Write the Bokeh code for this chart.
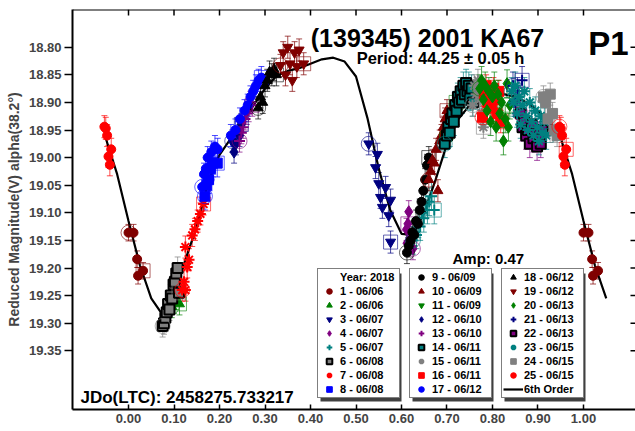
from bokeh.plotting import figure
from bokeh.models import (ColumnDataSource, Range1d, FixedTicker, Legend, LegendItem,
                          Label, Whisker, TeeHead, BoxAnnotation, NumeralTickFormatter, Span)
from bokeh.embed import file_html
from bokeh.resources import INLINE

# ---------------- texts ----------------
title_text = "(139345) 2001 KA67"
period_text = "Period: 44.25 \u00b1 0.05 h"
amp_text = "Amp: 0.47"
jd_text = "JDo(LTC): 2458275.733217"
plot_tag = "P1"
y_label = "Reduced Magnitude(V) alpha(38.2\u00b0)"
year_header = "Year: 2018"
fit_label = "6th Order"

x_ticks = [0.0, 0.1, 0.2, 0.3, 0.4, 0.5, 0.6, 0.7, 0.8, 0.9, 1.0]
y_ticks = [18.80, 18.85, 18.90, 18.95, 19.00, 19.05, 19.10, 19.15, 19.20, 19.25, 19.30, 19.35]

# ---------------- sessions ----------------
session_labels = ["1 - 06/06", "2 - 06/06", "3 - 06/07", "4 - 06/07", "5 - 06/07", "6 - 06/08",
                  "7 - 06/08", "8 - 06/08", "9 - 06/09", "10 - 06/09", "11 - 06/09", "12 - 06/10",
                  "13 - 06/10", "14 - 06/11", "15 - 06/11", "16 - 06/11", "17 - 06/12", "18 - 06/12",
                  "19 - 06/12", "20 - 06/13", "21 - 06/13", "22 - 06/13", "23 - 06/15", "24 - 06/15",
                  "25 - 06/15"]
session_markers = ["circle", "triangle", "inverted_triangle", "diamond", "cross", "square",
                   "asterisk", "square", "circle", "triangle", "inverted_triangle", "diamond",
                   "cross", "square", "asterisk", "square", "circle", "triangle",
                   "inverted_triangle", "diamond", "cross", "square", "asterisk", "square", "circle"]
session_colors = ["#800000", "#008000", "#000080", "#800080", "#008080", "#808080",
                  "#ff0000", "#0000ff", "#000000", "#800000", "#008000", "#000080",
                  "#800080", "#008080", "#808080", "#ff0000", "#0000ff", "#000000",
                  "#800000", "#008000", "#000080", "#800080", "#008080", "#808080", "#ff0000"]
session_bordered = [6, 14, 22]
session_errors = [0.015, 0.020, 0.020, 0.020, 0.025, 0.020, 0.020, 0.025, 0.020, 0.020,
                  0.020, 0.020, 0.020, 0.025, 0.020, 0.020, 0.020, 0.020, 0.020, 0.025,
                  0.025, 0.025, 0.025, 0.020, 0.020]

ph01 = [0.000, 0.011, 0.019, 0.021, 0.032]
mag01 = [19.136, 19.136, 19.184, 19.214, 19.205]
ph02 = [0.095, 0.100, 0.104, 0.108, 0.112]
mag02 = [19.270, 19.262, 19.255, 19.245, 19.265]
ph03 = [0.528, 0.547, 0.543, 0.550, 0.565, 0.554, 0.576, 0.558, 0.572, 0.576]
mag03 = [18.975, 18.994, 19.018, 19.047, 19.054, 19.072, 19.077, 19.090, 19.105, 19.153]
ph04 = [0.625, 0.612, 0.616, 0.611, 0.618, 0.614]
mag04 = [19.165, 19.155, 19.098, 19.130, 19.145, 19.120]
ph05 = [0.625, 0.629, 0.633, 0.637, 0.641, 0.645, 0.649, 0.653, 0.657, 0.661, 0.666, 0.672]
mag05 = [19.150, 19.135, 19.140, 19.120, 19.125, 19.100, 19.110, 19.085, 19.095, 19.080, 19.070, 19.095]
ph06 = [0.075, 0.078, 0.081, 0.084, 0.087, 0.090, 0.093, 0.096, 0.099, 0.102, 0.105, 0.108, 0.111]
mag06 = [19.305, 19.300, 19.290, 19.280, 19.265, 19.275, 19.250, 19.255, 19.230, 19.225, 19.210, 19.200, 19.245]
ph07 = [0.118, 0.122, 0.125, 0.129, 0.125, 0.133, 0.140, 0.146, 0.152, 0.158, 0.165]
mag07 = [19.240, 19.225, 19.240, 19.198, 19.162, 19.185, 19.141, 19.130, 19.115, 19.102, 19.084]
ph08 = [0.168, 0.172, 0.176, 0.180, 0.185, 0.195]
mag08 = [19.070, 19.050, 19.040, 19.020, 19.010, 19.010]
ph09 = [0.612, 0.616, 0.620, 0.624, 0.628, 0.632, 0.636, 0.640, 0.644, 0.648, 0.652, 0.656, 0.660]
mag09 = [19.172, 19.160, 19.150, 19.135, 19.140, 19.115, 19.120, 19.095, 19.080, 19.060, 19.040, 19.014, 19.000]
ph10 = [0.660, 0.664, 0.668, 0.672, 0.676, 0.680, 0.684, 0.688, 0.692, 0.696, 0.700]
mag10 = [19.040, 19.025, 19.005, 19.010, 18.985, 19.060, 18.970, 18.960, 18.945, 18.930, 18.915]
ph11 = [0.700, 0.705, 0.710, 0.715, 0.720]
mag11 = [18.960, 18.950, 18.930, 18.920, 18.900]
ph12 = [0.228, 0.232, 0.236, 0.240, 0.244, 0.248]
mag12 = [18.970, 18.990, 18.975, 18.955, 18.960, 18.940]
ph13 = [0.244, 0.248, 0.252, 0.256, 0.260, 0.264, 0.268, 0.272]
mag13 = [18.970, 18.955, 18.945, 18.930, 18.920, 18.915, 18.900, 18.905]
ph14 = [0.695, 0.700, 0.703, 0.706, 0.709, 0.712, 0.715, 0.718, 0.721, 0.724, 0.727,
        0.730, 0.733, 0.736, 0.739, 0.742, 0.745, 0.748, 0.751, 0.754, 0.757]
mag14 = [18.975, 18.960, 18.945, 18.955, 18.930, 18.920, 18.935, 18.905, 18.915, 18.890, 18.900,
         18.880, 18.895, 18.870, 18.885, 18.865, 18.880, 18.870, 18.890, 18.875, 18.900]
ph15 = [0.756, 0.760, 0.764, 0.768, 0.772, 0.776, 0.780]
mag15 = [18.905, 18.870, 18.885, 18.860, 18.895, 18.920, 18.945]
ph16 = [0.778, 0.782, 0.786, 0.790, 0.794, 0.798, 0.802, 0.806, 0.810, 0.814, 0.818]
mag16 = [18.927, 18.885, 18.870, 18.900, 18.880, 18.910, 18.875, 18.895, 18.920, 18.880, 18.935]
ph17 = [0.162, 0.166, 0.170, 0.174, 0.178, 0.182, 0.186, 0.190, 0.196,
        0.225, 0.235, 0.245, 0.255, 0.262, 0.268, 0.274, 0.280, 0.286, 0.292]
mag17 = [19.053, 19.030, 19.020, 19.000, 19.040, 18.990, 19.010, 18.980, 18.985,
         18.960, 18.950, 18.930, 18.915, 18.905, 18.890, 18.880, 18.870, 18.860, 18.855]
ph18 = [0.285, 0.290, 0.295, 0.300, 0.305, 0.310, 0.315, 0.320, 0.325]
mag18 = [18.910, 18.890, 18.900, 18.870, 18.860, 18.845, 18.850, 18.840, 18.850]
ph19 = [0.334, 0.340, 0.345, 0.350, 0.355, 0.360, 0.365, 0.370, 0.375, 0.385]
mag19 = [18.833, 18.810, 18.850, 18.800, 18.830, 18.860, 18.810, 18.835, 18.805, 18.830]
ph20 = [0.772, 0.776, 0.780, 0.784, 0.788, 0.792, 0.796, 0.800, 0.804, 0.808, 0.812, 0.816,
        0.820, 0.824, 0.828, 0.832, 0.835, 0.838]
mag20 = [18.875, 18.860, 18.895, 18.870, 18.915, 18.880, 18.935, 18.890, 18.870, 18.945, 18.885, 18.920,
         18.900, 18.970, 18.930, 18.866, 18.945, 18.905]
ph21 = [0.845, 0.850, 0.855, 0.860, 0.865]
mag21 = [18.870, 18.900, 18.880, 18.920, 18.860]
ph22 = [0.862, 0.866, 0.870, 0.874, 0.878, 0.882, 0.886, 0.890, 0.894, 0.898, 0.902, 0.906, 0.910]
mag22 = [18.920, 18.945, 18.935, 18.960, 18.950, 18.975, 18.940, 18.965, 18.955, 18.980, 18.960, 18.975, 18.950]
ph23 = [0.842, 0.846, 0.850, 0.854, 0.858, 0.862, 0.866, 0.870, 0.874, 0.878, 0.882, 0.886,
        0.890, 0.894, 0.898, 0.902, 0.906, 0.910, 0.914, 0.918]
mag23 = [18.880, 18.900, 18.870, 18.920, 18.890, 18.940, 18.905, 18.880, 18.925, 18.950, 18.900, 18.935,
         18.960, 18.915, 18.945, 18.970, 18.925, 18.955, 18.935, 18.960]
ph24 = [0.912, 0.917, 0.922, 0.927, 0.932, 0.937, 0.942]
mag24 = [18.890, 18.900, 18.930, 18.885, 18.920, 18.950, 18.960]
ph25 = [0.947, 0.950, 0.953, 0.956, 0.959, 0.962]
mag25 = [18.944, 18.947, 18.960, 18.998, 19.013, 18.985]

session_phases = [ph01, ph02, ph03, ph04, ph05, ph06, ph07, ph08, ph09, ph10, ph11, ph12, ph13,
                  ph14, ph15, ph16, ph17, ph18, ph19, ph20, ph21, ph22, ph23, ph24, ph25]
session_mags = [mag01, mag02, mag03, mag04, mag05, mag06, mag07, mag08, mag09, mag10, mag11, mag12,
                mag13, mag14, mag15, mag16, mag17, mag18, mag19, mag20, mag21, mag22, mag23, mag24, mag25]

# 6th order fit at 0.025 phase steps
curve_phase = [0.000, 0.025, 0.050, 0.075, 0.100, 0.125, 0.150, 0.175, 0.200, 0.225,
               0.250, 0.275, 0.300, 0.325, 0.350, 0.375, 0.400, 0.425, 0.450, 0.475,
               0.500, 0.525, 0.550, 0.575, 0.600, 0.625, 0.650, 0.675, 0.700, 0.725,
               0.750, 0.775, 0.800, 0.825, 0.850, 0.875, 0.900, 0.925, 0.950, 0.975, 1.000]
curve_mag = [19.115, 19.195, 19.255, 19.285, 19.250, 19.185, 19.125, 19.045, 18.995, 18.965,
             18.935, 18.905, 18.875, 18.852, 18.843, 18.838, 18.830, 18.822, 18.819, 18.826,
             18.853, 18.928, 19.020, 19.095, 19.138, 19.140, 19.100, 19.040, 18.975, 18.930,
             18.905, 18.890, 18.885, 18.885, 18.890, 18.900, 18.915, 18.935, 18.965, 19.030, 19.115]

FONT = "Liberation Sans"

x_left, x_right = -0.1231, 1.1143
y_bottom, y_top = 19.4563, 18.7317

# ---------------- figure ----------------
p = figure(width=635, height=431, output_backend="svg", toolbar_location=None,
           x_range=Range1d(x_left, x_right), y_range=Range1d(y_bottom, y_top),
           min_border_left=72, min_border_right=0, min_border_top=9, min_border_bottom=22,
           background_fill_color="white", border_fill_color="white")
p.outline_line_color = None
p.xgrid.visible = False
p.ygrid.visible = False

fmt = NumeralTickFormatter(format="0.00")
xa = p.xaxis[0]
xa.ticker = FixedTicker(ticks=x_ticks)
xa.formatter = fmt
xa.major_tick_in = 5
xa.major_tick_out = 0
xa.minor_tick_in = 0
xa.minor_tick_out = 0
xa.axis_line_width = 2
xa.major_tick_line_width = 1.5
xa.major_label_standoff = 4
xa.major_label_text_font = FONT
xa.major_label_text_font_style = "bold"
xa.major_label_text_font_size = "13px"

ya = p.yaxis[0]
ya.ticker = FixedTicker(ticks=y_ticks)
ya.formatter = fmt
ya.major_tick_in = 0
ya.major_tick_out = 8
ya.minor_tick_in = 0
ya.minor_tick_out = 0
ya.axis_line_width = 2
ya.major_tick_line_width = 1.5
ya.major_label_standoff = 3
ya.major_label_text_font = FONT
ya.major_label_text_font_style = "bold"
ya.major_label_text_font_size = "13px"
ya.axis_label = y_label
ya.axis_label_text_font = FONT
ya.axis_label_text_font_style = "bold"
ya.axis_label_text_font_size = "14px"
ya.axis_label_standoff = 4

# top frame line with inward ticks, and inward ticks on the right edge
p.add_layout(Span(location=y_top, dimension="width", line_color="black", line_width=2))
top_len = 6.0 / 552.0
right_len = 5.0 / 455.0
p.segment(x0=x_ticks, x1=x_ticks, y0=[y_top] * len(x_ticks), y1=[y_top + top_len] * len(x_ticks),
          line_color="black", line_width=1.5)
p.segment(x0=[x_right] * len(y_ticks), x1=[x_right - right_len] * len(y_ticks), y0=y_ticks, y1=y_ticks,
          line_color="black", line_width=1.5)

# fit curve (drawn beneath the points), extended periodically a little beyond [0, 1]
cx, cy = [], []
for a, b in zip(curve_phase, curve_mag):
    if 0.95 <= a < 1.0:
        cx.append(a - 1.0)
        cy.append(b)
for a, b in zip(curve_phase, curve_mag):
    cx.append(a)
    cy.append(b)
for a, b in zip(curve_phase, curve_mag):
    if 0.0 < a <= 0.05:
        cx.append(a + 1.0)
        cy.append(b)
fit_r = p.line(cx, cy, line_color="black", line_width=2.2)

marker_size = {"circle": 9, "triangle": 10, "inverted_triangle": 10, "diamond": 12,
               "cross": 11, "square": 10, "asterisk": 11}

session_renderers = []
for i in range(25):
    ph, mg = session_phases[i], session_mags[i]
    xs, ys = [], []
    for a, b in zip(ph, mg):
        xs.append(a)
        ys.append(b)
        if a >= 0.945:
            xs.append(a - 1.0)
            ys.append(b)
        if a < 0.05:
            xs.append(a + 1.0)
            ys.append(b)
    e = session_errors[i]
    c = session_colors[i]
    src = ColumnDataSource(dict(x=xs, y=ys, upper=[v + e for v in ys], lower=[v - e for v in ys]))
    wh = Whisker(source=src, base="x", upper="upper", lower="lower", dimension="height",
                 line_color=c, line_alpha=0.7, line_width=1,
                 upper_head=TeeHead(size=6, line_color=c, line_alpha=0.7, line_width=1),
                 lower_head=TeeHead(size=6, line_color=c, line_alpha=0.7, line_width=1))
    p.add_layout(wh)
    m = session_markers[i]
    kw = dict(marker=m, size=marker_size[m])
    if m in ("cross", "asterisk"):
        kw.update(line_color=c, line_width=2)
    elif (i + 1) in session_bordered:
        kw.update(fill_color=c, line_color="black", line_width=2)
    else:
        kw.update(fill_color=c, line_color=c, line_width=1)
    r = p.scatter("x", "y", source=src, **kw)
    session_renderers.append(r)
    # first point circled, last point boxed
    p.scatter(x=[ph[0]], y=[mg[0]], marker="circle", size=15, fill_color=None,
              line_color=c, line_alpha=0.6, line_width=1)
    p.scatter(x=[ph[-1]], y=[mg[-1]], marker="square", size=14, fill_color=None,
              line_color=c, line_alpha=0.6, line_width=1)

dummy = p.scatter(x=[], y=[], marker="circle", size=1, fill_alpha=0, line_alpha=0)

# ---------------- texts (frame-relative screen units) ----------------
def add_label(text, x, y, size, align="left"):
    p.add_layout(Label(x=x, y=y, x_units="screen", y_units="screen", text=text,
                       text_font=FONT, text_font_style="bold", text_font_size=size,
                       text_align=align, text_baseline="alphabetic", text_color="black"))

add_label(title_text, 355, 372, "25px", "center")
add_label(period_text, 368, 352, "16.5px", "center")
add_label(plot_tag, 556, 366, "33px", "right")
add_label(amp_text, 380, 151, "15px", "left")
add_label(jd_text, 8, 12, "17px", "left")

# ---------------- legends ----------------
leg_w, leg_h, leg_y = 81, 128, 11
leg_x = [245, 337, 429]
groups = [
    [LegendItem(label=year_header, renderers=[dummy])] +
    [LegendItem(label=session_labels[k], renderers=[session_renderers[k]]) for k in range(0, 8)],
    [LegendItem(label=session_labels[k], renderers=[session_renderers[k]]) for k in range(8, 17)],
    [LegendItem(label=session_labels[k], renderers=[session_renderers[k]]) for k in range(17, 25)] +
    [LegendItem(label=fit_label, renderers=[fit_r])],
]
for lx in leg_x:
    p.add_layout(BoxAnnotation(left=lx + 3, right=lx + leg_w + 3, bottom=leg_y - 3, top=leg_y + leg_h - 3,
                               left_units="screen", right_units="screen", top_units="screen",
                               bottom_units="screen", fill_color="#404040", fill_alpha=1,
                               line_color=None, level="annotation"))
for lx, items in zip(leg_x, groups):
    leg = Legend(items=items, location=(lx, leg_y), orientation="vertical",
                 glyph_width=20, glyph_height=14, label_height=14, label_width=58,
                 label_standoff=1, spacing=0, padding=1, margin=0,
                 border_line_color="black", border_line_width=1.5,
                 background_fill_color="white", background_fill_alpha=1,
                 label_text_font=FONT, label_text_font_style="bold",
                 label_text_font_size="11px", label_text_color="black")
    p.add_layout(leg)

open("out.html", "w").write(file_html(p, INLINE))
